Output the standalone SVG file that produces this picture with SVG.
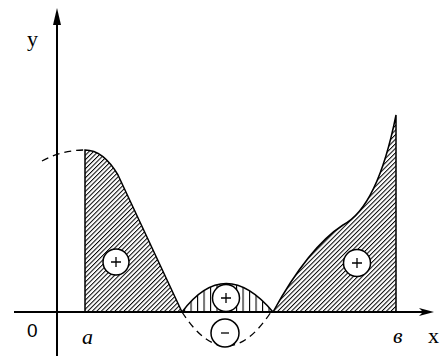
<svg xmlns="http://www.w3.org/2000/svg" width="443" height="356" viewBox="0 0 443 356">
<style>
.ax{stroke:#000;stroke-width:2;fill:none}
.cv{stroke:#000;stroke-width:1.5;fill:none}
.ds{stroke:#000;stroke-width:1.3;fill:none;stroke-dasharray:7 5}
.mk{fill:#fff;stroke:#000;stroke-width:1.5}
.sg{stroke:#000;stroke-width:1.3;fill:none}
.lb{font-family:"Liberation Serif",serif;font-size:22px;fill:#000}
.it{font-style:italic}
</style>
<defs>
<pattern id="diag" patternUnits="userSpaceOnUse" width="3.2" height="10" patternTransform="rotate(45)">
<line x1="0.5" y1="0" x2="0.5" y2="10" stroke="#000" stroke-width="1"/>
</pattern>
<pattern id="vert" patternUnits="userSpaceOnUse" width="6.5" height="10" x="2">
<line x1="0.5" y1="0" x2="0.5" y2="10" stroke="#000" stroke-width="1.2"/>
</pattern>
</defs>
<rect width="443" height="356" fill="#fff"/>
<g id="regions">
<path id="left-region" d="M85,312 L85,150 C98,150 108,158 118,175 L182,312 Z" fill="url(#diag)" stroke="none"/>
<path id="mid-region" d="M182,312 Q225,255 273,312 Z" fill="url(#vert)" stroke="none"/>
<path id="right-region" d="M273,312 C295,272 320,240 343,225 C368,212 385,170 396,115 L396,312 Z" fill="url(#diag)" stroke="none"/>
</g>
<g id="connectors">
<line class="ax" x1="57" y1="20" x2="57" y2="356"/>
<polygon points="57,8 53,25 61,25" fill="#000"/>
<line class="ax" x1="14" y1="312" x2="425" y2="312"/>
<polygon points="434,312 419,308 423,312 419,316" fill="#000"/>
<path class="ds" d="M42,161 Q62,150 85,150"/>
<path class="cv" d="M85,312 L85,150 C98,150 108,158 118,175 L182,312"/>
<path class="cv" d="M182,312 Q225,255 273,312"/>
<path class="ds" d="M182,312 Q226,380 271,312"/>
<path class="cv" d="M273,312 C295,272 320,240 343,225 C368,212 385,170 396,115 L396,312"/>
</g>
<g id="sign-left">
<circle class="mk" cx="116" cy="262" r="13"/>
<path class="sg" d="M111,262 H121 M116,257 V267"/>
</g>
<g id="sign-mid-plus">
<circle class="mk" cx="226" cy="298" r="13.5"/>
<path class="sg" d="M221,298 H231 M226,293 V303"/>
</g>
<g id="sign-mid-minus">
<circle class="mk" cx="225" cy="333" r="14"/>
<path class="sg" d="M221,333 H229"/>
</g>
<g id="sign-right">
<circle class="mk" cx="357" cy="263" r="13.5"/>
<path class="sg" d="M352,263 H362 M357,258 V268"/>
</g>
<g id="labels">
<text class="lb" x="27" y="46">y</text>
<text x="27" y="337" style="font-family:'Liberation Sans',sans-serif;font-size:19px">0</text>
<text class="lb it" x="82" y="344">a</text>
<text class="lb it" x="393" y="343">в</text>
<text class="lb" x="428" y="343">x</text>
</g>
</svg>
